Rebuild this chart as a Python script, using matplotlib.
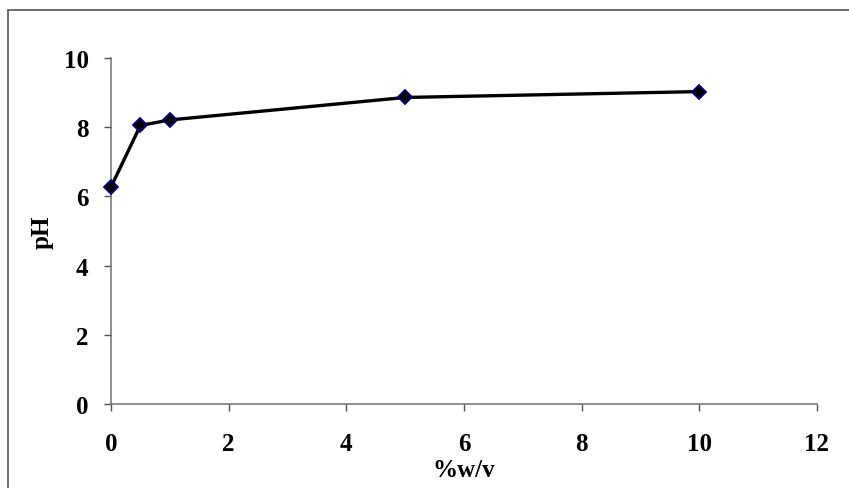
import matplotlib.pyplot as plt
from matplotlib.patches import Rectangle

# data
conc = [0, 0.5, 1, 5, 10]
ph = [6.27, 8.05, 8.21, 8.86, 9.03]
xticks = [0, 2, 4, 6, 8, 10, 12]
yticks = [0, 2, 4, 6, 8, 10]

plt.rcParams['font.family'] = 'Liberation Serif'
plt.rcParams['font.weight'] = 'bold'

fig = plt.figure(figsize=(8.49, 4.89), dpi=100)
ax = fig.add_axes([0.1307, 0.1718, 0.8316, 0.7075])

# outer chart border (cut off on the right and bottom)
fig.patches.append(Rectangle((8 / 849, -0.05), 1.2, 1 - 11 / 489 + 0.05,
                             transform=fig.transFigure, fill=False,
                             edgecolor='#606060', linewidth=1.3))

ax.plot(conc, ph, color='black', linewidth=2.4, marker='D', markersize=7.2,
        markerfacecolor='black', markeredgecolor='#000080', markeredgewidth=1.3,
        clip_on=False, zorder=3)

ax.set_xlim(0, 12)
ax.set_ylim(0, 10)
ax.set_xticks(xticks)
ax.set_yticks(yticks)
ax.spines['top'].set_visible(False)
ax.spines['right'].set_visible(False)
for s in ['left', 'bottom']:
    ax.spines[s].set_color('#707070')
    ax.spines[s].set_linewidth(1.1)
ax.tick_params(direction='out', length=5, width=1, color='#505050',
               labelsize=18)
ax.tick_params(axis='x', pad=15)
ax.tick_params(axis='y', pad=11)
for lbl in ax.get_xticklabels() + ax.get_yticklabels():
    lbl.set_fontweight('bold')

ax.set_xlabel('%w/v', fontsize=18, fontweight='bold', va='center')
ax.xaxis.set_label_coords(0.5, -0.19)
ax.set_ylabel('pH', fontsize=18, fontweight='bold', va='center')
ax.yaxis.set_label_coords(-0.098, 0.5)

fig.savefig('out.png', dpi=100)
